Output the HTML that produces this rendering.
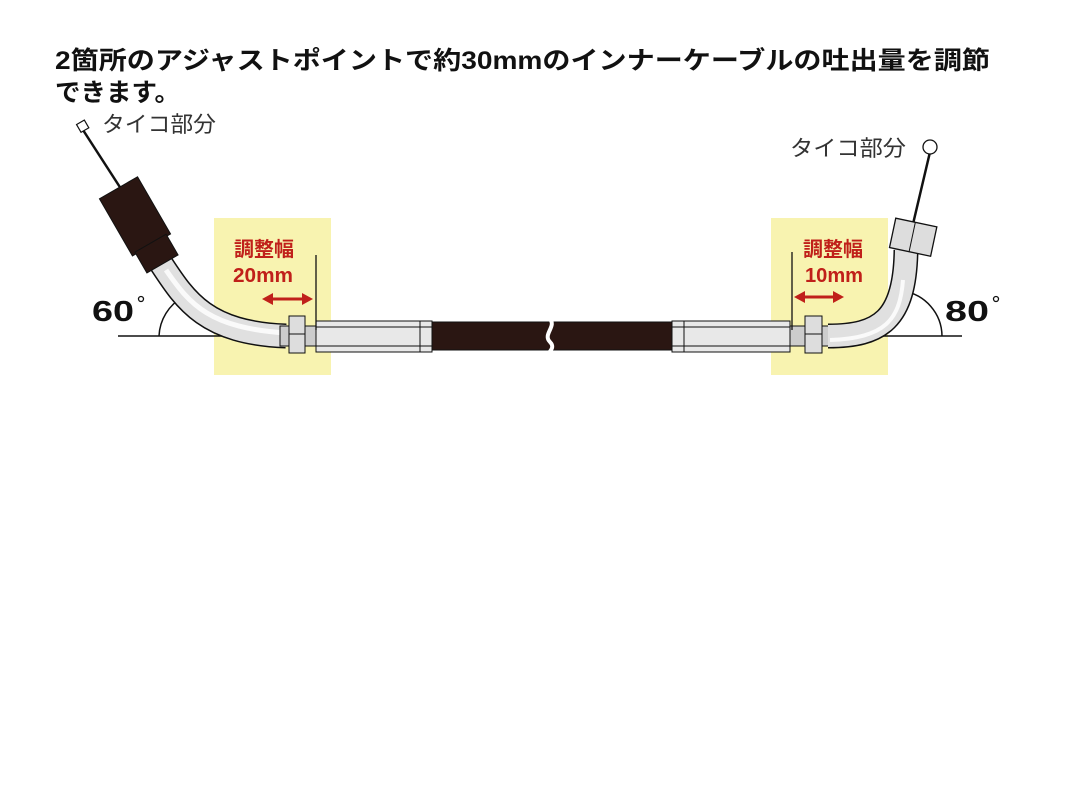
<!DOCTYPE html>
<html><head><meta charset="utf-8"><style>
html,body{margin:0;padding:0;background:#fff}
body{width:1075px;height:797px;overflow:hidden;position:relative}
</style></head><body>
<svg width="1075" height="797" viewBox="0 0 1075 797" xmlns="http://www.w3.org/2000/svg" style="position:absolute;left:0;top:0">
<text x="55" y="69" font-family="Liberation Sans, Noto Sans CJK JP, sans-serif" font-weight="bold" font-size="25" fill="#111" textLength="935" lengthAdjust="spacingAndGlyphs">2箇所のアジャストポイントで約30mmのインナーケーブルの吐出量を調節</text>
<text x="55" y="101" font-family="Liberation Sans, Noto Sans CJK JP, sans-serif" font-weight="bold" font-size="25" fill="#111" textLength="125" lengthAdjust="spacingAndGlyphs">できます。</text>
<rect x="214" y="218" width="117" height="157" fill="#f8f3b0"/>
<rect x="771" y="218" width="117" height="157" fill="#f8f3b0"/>
<line x1="118" y1="336" x2="300" y2="336" stroke="#111" stroke-width="1.5"/>
<line x1="815" y1="336" x2="962" y2="336" stroke="#111" stroke-width="1.5"/>
<path d="M159,336 A47,47 0 0 1 183,297" fill="none" stroke="#111" stroke-width="1.5"/>
<path d="M942,336 A46,46 0 0 0 903,291" fill="none" stroke="#111" stroke-width="1.5"/>
<line x1="83" y1="130" x2="125" y2="195" stroke="#111" stroke-width="2.5"/>
<rect x="78" y="122" width="9" height="9" fill="#fff" stroke="#111" stroke-width="1.2" transform="rotate(-30 82 126)"/>
<path d="M160,262 C185,300 205,333 286,336" fill="none" stroke="#111" stroke-width="25"/>
<path d="M160,262 C185,300 205,333 286,336" fill="none" stroke="#e0e0e0" stroke-width="22"/>
<path d="M166,270 C190,305 210,328 286,333" fill="none" stroke="#fafafa" stroke-width="5"/>
<g transform="rotate(-30 140 225)">
<rect x="118" y="182" width="44" height="66" fill="#2a1612" stroke="#111"/>
<rect x="122" y="246" width="36" height="24" fill="#2a1612" stroke="#111"/>
</g>
<rect x="280" y="326" width="37" height="20" fill="#ccc" stroke="#111"/>
<rect x="289" y="316" width="16" height="37" fill="#ddd" stroke="#111"/>
<line x1="289" y1="334" x2="305" y2="334" stroke="#111"/>
<rect x="316" y="321" width="116" height="31" fill="#e8e8e8" stroke="#111"/>
<line x1="316" y1="327" x2="432" y2="327" stroke="#111"/>
<line x1="316" y1="346" x2="432" y2="346" stroke="#111"/>
<line x1="420" y1="321" x2="420" y2="352" stroke="#111"/>
<rect x="432" y="322" width="240" height="28" fill="#2a1612" stroke="#111"/>
<path d="M549,318 C558,326 542,334 550,342 C556,348 548,352 548,355" fill="none" stroke="#fff" stroke-width="4"/>
<rect x="672" y="321" width="118" height="31" fill="#e8e8e8" stroke="#111"/>
<line x1="672" y1="327" x2="790" y2="327" stroke="#111"/>
<line x1="672" y1="346" x2="790" y2="346" stroke="#111"/>
<line x1="684" y1="321" x2="684" y2="352" stroke="#111"/>
<rect x="790" y="326" width="40" height="20" fill="#ccc" stroke="#111"/>
<path d="M828,336 C880,336 905,320 906,250" fill="none" stroke="#111" stroke-width="25"/>
<path d="M828,336 C880,336 905,320 906,250" fill="none" stroke="#e0e0e0" stroke-width="22"/>
<path d="M830,340 C885,338 900,320 903,280" fill="none" stroke="#fafafa" stroke-width="4"/>
<rect x="805" y="316" width="17" height="37" fill="#ddd" stroke="#111"/>
<line x1="805" y1="334" x2="822" y2="334" stroke="#111"/>
<line x1="913" y1="224" x2="930" y2="152" stroke="#111" stroke-width="2.5"/>
<circle cx="930" cy="147" r="7" fill="#fff" stroke="#111" stroke-width="1.3"/>
<g transform="rotate(12 912 238)">
<rect x="892" y="222" width="42" height="30" fill="#ddd" stroke="#111" stroke-width="1.3"/>
<line x1="912" y1="222" x2="912" y2="252" stroke="#111"/>
</g>
<line x1="316" y1="255" x2="316" y2="330" stroke="#111" stroke-width="1.3"/>
<line x1="792" y1="252" x2="792" y2="330" stroke="#111" stroke-width="1.3"/>
<g stroke="#c0201a" stroke-width="3" fill="#c0201a">
<line x1="270" y1="299" x2="304" y2="299"/>
<line x1="802" y1="297" x2="835" y2="297"/>
</g>
<polygon points="262,299 273,293 273,305" fill="#c0201a"/>
<polygon points="313,299 302,293 302,305" fill="#c0201a"/>
<polygon points="794,297 805,291 805,303" fill="#c0201a"/>
<polygon points="844,297 833,291 833,303" fill="#c0201a"/>
<g font-family="Liberation Sans, Noto Sans CJK JP, sans-serif" font-weight="bold" font-size="20" fill="#c0201a">
<text x="234" y="256" textLength="60" lengthAdjust="spacingAndGlyphs">調整幅</text><text x="233" y="282" textLength="60" lengthAdjust="spacingAndGlyphs">20mm</text>
<text x="803" y="256" textLength="60" lengthAdjust="spacingAndGlyphs">調整幅</text><text x="805" y="282" textLength="58" lengthAdjust="spacingAndGlyphs">10mm</text>
</g>
<g font-family="Liberation Sans, Noto Sans CJK JP, sans-serif" font-weight="bold" font-size="29" fill="#111">
<text x="92" y="321" textLength="42" lengthAdjust="spacingAndGlyphs">60</text><text x="945" y="321" textLength="44" lengthAdjust="spacingAndGlyphs">80</text>
</g>
<circle cx="141" cy="299" r="2.5" fill="none" stroke="#111" stroke-width="1.3"/>
<circle cx="996" cy="299" r="2.5" fill="none" stroke="#111" stroke-width="1.3"/>
<g font-family="Liberation Sans, Noto Sans CJK JP, sans-serif" font-size="22" fill="#333">
<text x="102" y="132" textLength="114" lengthAdjust="spacingAndGlyphs">タイコ部分</text><text x="790" y="156" textLength="116" lengthAdjust="spacingAndGlyphs">タイコ部分</text>
</g>
</svg>
</body></html>
